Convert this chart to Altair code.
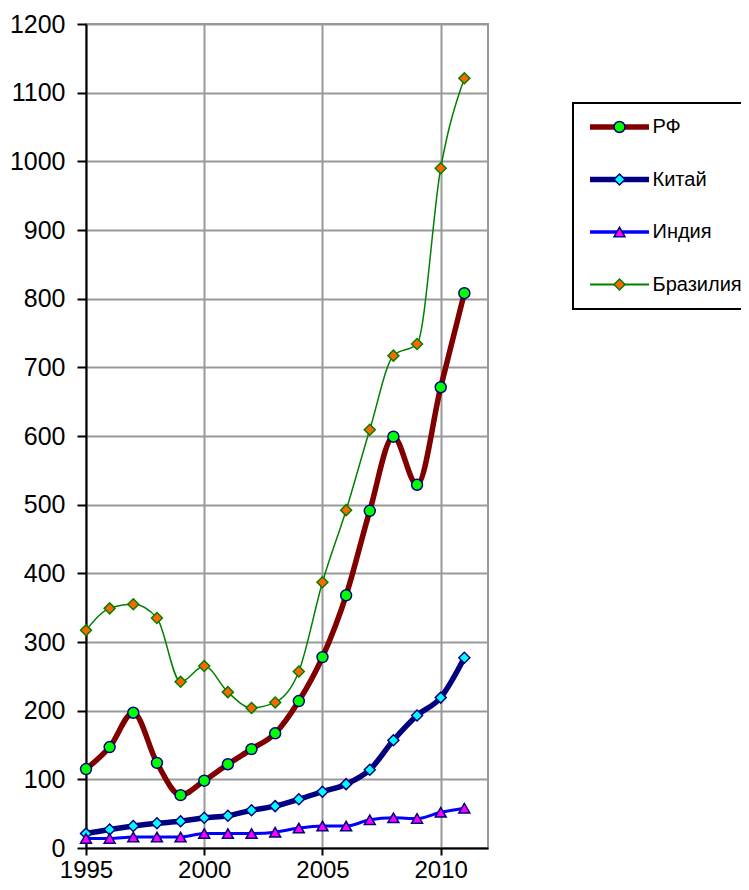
import altair as alt
import pandas as pd

years = list(range(1995, 2012))
series = ["РФ", "Китай", "Индия", "Бразилия"]
rf = [115, 147, 197, 124, 77, 98, 122, 144, 167, 214, 278, 368, 491, 599, 529, 671, 808]
china = [21, 27, 32, 36, 39, 44, 47, 55, 61, 71, 82, 93, 114, 157, 193, 219, 277]
india = [14, 14, 16, 16, 16, 21, 21, 21, 23, 29, 32, 32, 41, 44, 43, 52, 58]
brazil = [317, 349, 355, 335, 242, 265, 227, 204, 212, 257, 387, 492, 609, 717, 734, 990, 1121]
x_ticks = [1995, 2000, 2005, 2010]
y_ticks = list(range(0, 1201, 100))

values = {"РФ": rf, "Китай": china, "Индия": india, "Бразилия": brazil}
df = pd.DataFrame(
    [{"year": y, "value": v, "series": s} for s in series for y, v in zip(years, values[s])]
)

# styles
line_colors = ["#800000", "#000080", "#0000FF", "#008000"]
line_widths = [5.5, 5.5, 3, 1.5]
marker_fill = ["#00FF00", "#00FFFF", "#FF00FF", "#FF6600"]
marker_stroke = ["#000080", "#000080", "#000080", "#008000"]
marker_shape = ["circle", "diamond", "triangle-up", "diamond"]
legend_thick = [5.5, 5.5, 3.5, 2]
legend_paths = [f"M-29.5,{-t/2}H29.5V{t/2}H-29.5Z" for t in legend_thick]

FONT = "Liberation Sans"

x_enc = alt.X(
    "year:Q",
    scale=alt.Scale(domain=[1995, 2012], nice=False, zero=False),
    axis=alt.Axis(values=x_ticks, format="d", title=None, tickSize=7, labelPadding=3,
                  labelFlush=False, labelFontSize=24),
)
y_enc = alt.Y(
    "value:Q",
    scale=alt.Scale(domain=[0, 1200], nice=False),
    axis=alt.Axis(values=y_ticks, format="d", title=None, tickSize=9, labelPadding=12,
                  labelFlush=False),
)

leg_common = dict(
    orient="none", legendX=487, legendY=79, title=None, padding=14,
    labelFont=FONT, labelFontSize=20, labelColor="black",
    labelOffset=23, symbolOffset=22.5, rowPadding=32.5,
)

color_scale = alt.Scale(domain=series, range=line_colors)

line_layers = []
for s, w in zip(series, line_widths):
    line_layers.append(
        alt.Chart(df)
        .transform_filter(alt.datum.series == s)
        .mark_line(strokeWidth=w, interpolate="monotone")
        .encode(x=x_enc, y=y_enc, color=alt.Color("series:N", scale=color_scale, legend=None))
    )
lines = alt.layer(*line_layers)

legA = dict(**leg_common, strokeColor="black", symbolSize=4, symbolStrokeWidth=0, symbolOpacity=1)
legend_dummy = (
    alt.Chart(df)
    .transform_filter("datum.year < 0")
    .mark_point(filled=True)
    .encode(
        x=x_enc, y=y_enc,
        shape=alt.Shape("series:N", scale=alt.Scale(domain=series, range=legend_paths),
                        legend=alt.Legend(**legA)),
        fill=alt.Fill("series:N", scale=alt.Scale(domain=series, range=line_colors),
                      legend=alt.Legend(**legA)),
    )
)

legB = dict(**leg_common, symbolSize=120, symbolStrokeWidth=1.5, labelOpacity=0)
markers = (
    alt.Chart(df)
    .mark_point(filled=True, size=120, strokeWidth=1.5, opacity=1)
    .encode(
        x=x_enc, y=y_enc,
        shape=alt.Shape("series:N", scale=alt.Scale(domain=series, range=marker_shape),
                        legend=alt.Legend(**legB)),
        fill=alt.Fill("series:N", scale=alt.Scale(domain=series, range=marker_fill),
                      legend=alt.Legend(**legB)),
        stroke=alt.Stroke("series:N", scale=alt.Scale(domain=series, range=marker_stroke),
                          legend=alt.Legend(**legB)),
    )
)

base = (
    alt.layer(lines, legend_dummy, markers)
    .resolve_scale(shape="independent", fill="independent", stroke="independent")
    .properties(
        width=402, height=824,
        padding={"left": 78, "top": 16, "right": 253, "bottom": 34},
        autosize=alt.AutoSizeParams(type="none"),
        background="white",
    )
    .configure_view(stroke="#999999", strokeWidth=2)
    .configure_axis(
        labelFont=FONT, labelFontSize=25, labelColor="black",
        domainColor="black", domainWidth=2, tickColor="black", tickWidth=2,
        gridColor="#999999", gridWidth=2, gridOpacity=1,
    )
)

try:
    chart = base.configure_legend(strokeWidth=2)
    chart.to_dict()
except Exception:
    chart = base

chart.save("out.html", embed_options={"renderer": "svg", "actions": False})
